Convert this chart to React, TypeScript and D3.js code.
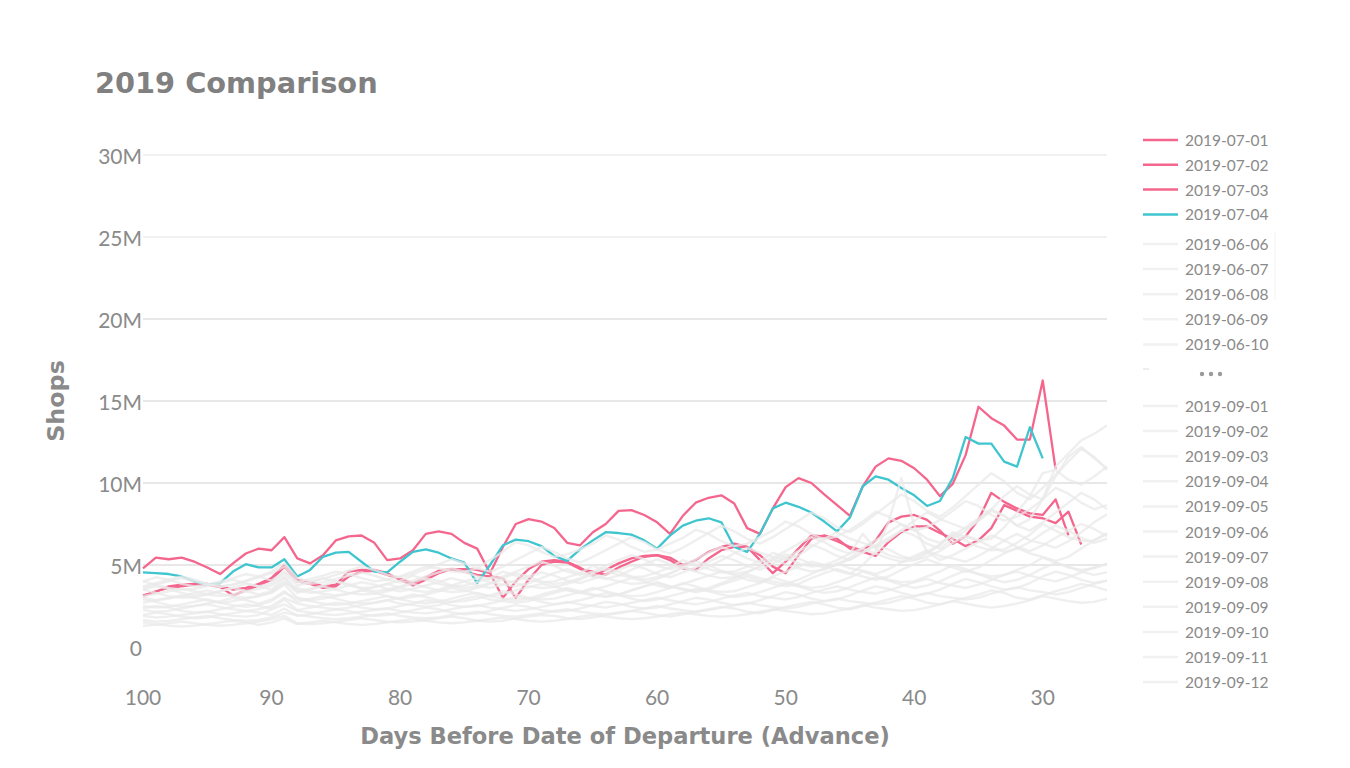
import React from "react";
import * as d3 from "d3";

// days before departure, 100 down to 25
const days = d3.range(100, 24, -1);
const xTicks = [100, 90, 80, 70, 60, 50, 40, 30];
const yTicks = [0, 5, 10, 15, 20, 25, 30];

// highlighted departure dates (values in millions of shops, starting at day 100)
const highlightDates = ["2019-07-01", "2019-07-02", "2019-07-03", "2019-07-04"];
const highlightColors = ["#f4668d", "#f4668d", "#f4668d", "#3fc5cf"];

const jul01 = [
  4.8, 5.45, 5.35, 5.45, 5.2, 4.85, 4.45, 5.1, 5.7, 6.0,
  5.9, 6.7, 5.4, 5.1, 5.6, 6.5, 6.75, 6.8, 6.35, 5.3,
  5.4, 5.9, 6.9, 7.05, 6.9, 6.35, 6.0, 4.5, 6.1, 7.5,
  7.8, 7.65, 7.25, 6.35, 6.2, 7.0, 7.5, 8.3, 8.35, 8.05,
  7.6, 6.9, 8.0, 8.8, 9.1, 9.25, 8.75, 7.25, 6.9, 8.45,
  9.75, 10.3, 10.0, 9.3, 8.65, 8.0, 9.8, 11.0, 11.5, 11.35,
  10.9, 10.2, 9.2, 9.95, 11.7, 14.65, 13.95, 13.5, 12.65, 12.65,
  16.25, 10.85,
];
const jul02 = [
  3.15, 3.35, 3.7, 3.8, 3.85, 3.85, 3.7, 3.5, 3.6, 3.85,
  4.2, 5.0, 4.1, 3.95, 3.7, 3.8, 4.6, 4.7, 4.7, 4.5,
  4.1, 3.75, 4.1, 4.5, 4.75, 4.75, 4.7, 4.5, 3.0, 4.0,
  4.75, 5.2, 5.3, 5.2, 4.85, 4.35, 4.7, 5.1, 5.4, 5.55,
  5.6, 5.45, 5.0, 5.3, 5.8, 6.1, 6.3, 6.1, 5.3, 4.5,
  5.2, 6.0, 6.8, 6.75, 6.45, 6.1, 5.9, 6.5, 7.6, 7.95,
  8.05, 7.75, 7.1, 6.3, 6.75, 7.75, 9.4, 8.85, 8.45, 8.15,
  8.05, 9.0, 6.8,
];
const jul03 = [
  3.1, 3.4, 3.6, 3.7, 3.8, 3.8, 3.65, 3.15, 3.45, 3.75,
  4.1, 4.9, 4.0, 3.85, 3.6, 3.7, 4.3, 4.6, 4.65, 4.4,
  4.15, 3.9, 4.25, 4.65, 4.75, 4.6, 4.4, 4.3, 4.2, 3.0,
  4.1, 5.0, 5.2, 5.15, 4.75, 4.6, 4.4, 4.85, 5.2, 5.5,
  5.6, 5.3, 4.8, 4.7, 5.4, 5.9, 6.1, 6.1, 5.6, 4.9,
  4.5, 5.6, 6.6, 6.8, 6.6, 6.0, 5.8, 5.55, 6.4, 7.0,
  7.35, 7.35, 6.95, 6.6, 6.15, 6.5, 7.25, 8.65, 8.3, 7.95,
  7.85, 7.55, 8.25, 6.25,
];
const jul04 = [
  4.55, 4.5, 4.45, 4.3, 4.0, 3.8, 3.9, 4.6, 5.05, 4.85,
  4.85, 5.35, 4.3, 4.7, 5.5, 5.75, 5.8, 5.2, 4.6, 4.55,
  5.2, 5.8, 5.95, 5.75, 5.4, 5.15, 3.9, 5.0, 6.2, 6.55,
  6.45, 6.15, 5.55, 5.25, 5.95, 6.5, 7.0, 6.95, 6.85, 6.5,
  6.0, 6.8, 7.4, 7.7, 7.85, 7.6, 6.1, 5.8, 6.9, 8.45,
  8.8, 8.55, 8.2, 7.65, 7.05, 7.9, 9.8, 10.4, 10.2, 9.7,
  9.25, 8.6, 8.9, 10.3, 12.8, 12.4, 12.4, 11.3, 11.0, 13.4,
  11.5,
];
const highlightSeries = [jul01, jul02, jul03, jul04];

// other departure dates (grey background lines)
const g01 = [
  1.3, 1.35, 1.45, 1.55, 1.45, 1.35, 1.3, 1.35, 1.45, 1.55, 1.7, 1.9, 1.45, 1.4,
  1.45, 1.55, 1.65, 1.75, 1.65, 1.55, 1.5, 1.55, 1.65, 1.75, 1.85, 1.75, 1.6, 1.55,
  1.6, 1.75, 1.85, 1.95, 1.9, 1.75, 1.7, 1.8, 1.95, 2.05, 2.2, 2.1, 1.95, 1.85,
  2.0, 2.15, 2.3, 2.45, 2.35, 2.15, 2.05, 2.25, 2.45, 2.6, 2.75, 2.6, 2.4, 2.3,
  2.5, 2.7, 2.9, 3.1, 2.95, 2.7, 2.6, 2.8, 3.0, 3.2, 3.45, 3.3, 3.0, 2.9,
  3.15, 3.4, 3.6, 3.85, 3.7, 3.45,
];
const g02 = [
  1.9, 1.8, 1.85, 1.95, 2.05, 2.15, 2.0, 1.9, 1.85, 1.95, 2.3, 2.6, 2.2, 2.1,
  2.0, 1.95, 2.05, 2.15, 2.25, 2.35, 2.2, 2.1, 2.05, 2.15, 2.3, 2.45, 2.55, 2.4,
  2.3, 2.2, 2.3, 2.45, 2.6, 2.75, 2.6, 2.5, 2.4, 2.55, 2.7, 2.85, 3.0, 2.85,
  2.7, 2.6, 2.75, 2.95, 3.15, 3.3, 3.1, 3.0, 2.9, 3.05, 3.3, 3.5, 3.7, 3.5,
  3.35, 3.25, 3.45, 3.7, 3.95, 4.15, 3.9, 3.75, 3.6, 3.8, 4.1, 4.4, 4.6, 4.35,
  4.15, 4.0, 4.25, 4.55, 4.85, 5.05,
];
const g03 = [
  2.9, 2.75, 2.55, 2.45, 2.5, 2.65, 2.8, 3.0, 2.85, 2.65, 2.9, 3.4, 2.75, 2.95,
  3.1, 2.95, 2.75, 2.65, 2.7, 2.85, 3.0, 3.2, 3.05, 2.85, 2.75, 2.8, 2.95, 3.15,
  3.4, 3.2, 3.0, 2.9, 2.95, 3.15, 3.35, 3.6, 3.4, 3.2, 3.1, 3.15, 3.35, 3.6,
  3.9, 3.7, 3.45, 3.35, 3.4, 3.65, 3.9, 4.25, 4.0, 3.75, 3.6, 3.7, 3.95, 4.25,
  4.6, 4.35, 4.1, 3.95, 4.0, 4.3, 4.6, 5.0, 4.75, 4.45, 4.3, 4.4, 4.7, 5.0,
  5.45, 5.15, 4.85, 4.7, 4.8, 5.1,
];
const g04 = [
  3.5, 3.7, 3.55, 3.3, 3.15, 3.25, 3.4, 3.6, 3.85, 3.7, 3.5, 4.2, 3.4, 3.55,
  3.75, 4.0, 3.85, 3.55, 3.4, 3.5, 3.7, 3.95, 4.2, 4.05, 3.75, 3.6, 3.7, 3.9,
  4.2, 4.5, 4.3, 4.0, 3.85, 3.95, 4.2, 4.5, 4.8, 4.6, 4.3, 4.1, 4.25, 4.5,
  4.85, 5.2, 5.0, 4.65, 4.45, 4.6, 4.9, 5.3, 5.65, 5.4, 5.05, 4.85, 5.0, 5.35,
  5.8, 6.2, 5.95, 5.55, 5.3, 5.5, 5.85, 6.35, 6.8, 6.5, 6.1, 5.8, 6.0, 6.4,
  6.95, 7.4, 7.1, 6.65, 6.35, 6.6,
];
const g05 = [
  3.7, 3.9, 4.1, 4.3, 4.1, 3.85, 3.7, 3.8, 4.0, 4.25, 4.5, 4.9, 4.0, 3.85,
  3.95, 4.15, 4.35, 4.55, 4.35, 4.1, 3.95, 4.05, 4.3, 4.55, 4.8, 4.6, 4.3, 4.15,
  4.3, 4.6, 4.9, 5.2, 4.95, 4.6, 4.4, 4.6, 4.95, 5.3, 5.6, 5.35, 4.95, 4.75,
  5.0, 5.35, 5.75, 6.1, 5.8, 5.4, 5.15, 5.45, 5.85, 6.3, 6.7, 6.4, 5.95, 5.7,
  6.05, 6.5, 7.0, 7.5, 7.15, 6.6, 6.35, 6.8, 7.3, 7.85, 8.4, 8.0, 7.4, 7.1,
  7.6, 8.2, 8.8, 9.4, 9.0, 8.4,
];
const g06 = [
  1.65, 1.55, 1.6, 1.7, 1.8, 1.9, 1.75, 1.65, 1.6, 1.65, 1.8, 2.1, 1.95, 1.85,
  1.75, 1.7, 1.75, 1.85, 1.95, 2.05, 1.9, 1.8, 1.75, 1.8, 1.95, 2.05, 2.15, 2.0,
  1.9, 1.85, 1.95, 2.05, 2.2, 2.3, 2.15, 2.05, 2.0, 2.1, 2.2, 2.35, 2.5, 2.35,
  2.25, 2.15, 2.25, 2.4, 2.55, 2.7, 2.55, 2.45, 2.35, 2.45, 2.65, 2.8, 2.95, 2.8,
  2.7, 2.6, 2.7, 2.9, 3.1, 3.3, 3.1, 3.0, 2.9, 3.0, 3.25, 3.45, 3.65, 3.45,
  3.35, 3.2, 3.35, 3.6, 3.85, 4.05,
];
const g07 = [
  4.0, 3.8, 3.6, 3.5, 3.55, 3.7, 3.9, 4.1, 3.9, 3.7, 3.9, 4.5, 3.75, 3.95,
  4.2, 4.0, 3.75, 3.6, 3.65, 3.85, 4.05, 4.35, 4.1, 3.85, 3.7, 3.75, 3.95, 4.2,
  4.6, 4.35, 4.1, 3.95, 4.0, 4.25, 4.5, 4.95, 4.65, 4.4, 4.25, 4.3, 4.55, 4.85,
  5.3, 5.0, 4.75, 4.55, 4.6, 4.9, 5.25, 5.75, 5.45, 5.1, 4.9, 5.0, 5.3, 5.7,
  6.9, 6.0, 5.6, 5.4, 5.45, 5.8, 6.25, 6.85, 6.5, 6.1, 5.9, 5.95, 6.35, 6.85,
  7.5, 7.1, 6.7, 6.45, 6.5, 6.95,
];
const g08 = [
  2.35, 2.5, 2.4, 2.2, 2.1, 2.15, 2.3, 2.45, 2.6, 2.5, 2.35, 2.9, 2.25, 2.4,
  2.55, 2.7, 2.6, 2.4, 2.3, 2.35, 2.5, 2.65, 2.85, 2.75, 2.55, 2.45, 2.5, 2.65,
  2.85, 3.05, 2.95, 2.75, 2.6, 2.7, 2.85, 3.05, 3.3, 3.15, 2.95, 2.8, 2.9, 3.1,
  3.3, 3.55, 3.4, 3.2, 3.05, 3.15, 3.35, 3.6, 3.85, 3.7, 3.45, 3.3, 3.4, 3.65,
  3.95, 4.25, 4.05, 3.8, 3.6, 3.75, 4.0, 4.35, 4.65, 4.45, 4.15, 3.95, 4.1, 4.4,
  4.8, 5.15, 4.9, 4.6, 4.4, 4.55,
];
const g09 = [
  3.6, 3.8, 4.0, 4.2, 4.0, 3.8, 3.65, 3.8, 4.05, 4.3, 4.6, 5.1, 4.2, 4.0,
  4.15, 4.4, 4.65, 4.9, 4.7, 4.4, 4.25, 4.45, 4.75, 5.05, 5.35, 5.1, 4.8, 4.6,
  4.9, 5.3, 5.7, 6.1, 5.8, 5.4, 5.15, 5.5, 5.9, 6.3, 6.7, 6.4, 5.95, 5.7,
  6.05, 6.5, 6.95, 7.4, 7.05, 6.6, 6.3, 6.7, 7.2, 7.7, 8.2, 7.85, 7.3, 7.0,
  7.5, 8.1, 8.7, 9.3, 8.9, 8.3, 7.95, 8.5, 9.2, 9.9, 10.6, 10.1, 9.4, 9.0,
  9.7, 10.5, 11.3, 12.1, 11.6, 10.8,
];
const g10 = [
  3.0, 2.85, 2.95, 3.1, 3.3, 3.45, 3.25, 3.1, 3.0, 3.1, 3.35, 3.9, 3.6, 3.4,
  3.25, 3.15, 3.25, 3.45, 3.65, 3.85, 3.6, 3.45, 3.35, 3.5, 3.75, 4.0, 4.2, 3.95,
  3.8, 3.7, 3.9, 4.2, 4.5, 4.75, 4.5, 4.3, 4.15, 4.35, 4.7, 5.05, 5.35, 5.05,
  4.85, 4.65, 4.9, 5.3, 5.7, 6.05, 5.75, 5.5, 5.3, 5.6, 6.1, 6.6, 7.0, 6.6,
  6.35, 6.1, 6.5, 7.1, 7.7, 8.2, 7.8, 7.5, 7.2, 7.7, 8.4, 9.2, 9.8, 9.3,
  9.0, 11.0, 11.8, 12.6, 13.0, 13.5,
];
const g11 = [
  1.5, 1.4, 1.3, 1.25, 1.3, 1.4, 1.5, 1.6, 1.5, 1.35, 1.5, 1.75, 1.4, 1.5,
  1.6, 1.5, 1.4, 1.35, 1.4, 1.5, 1.6, 1.7, 1.6, 1.5, 1.45, 1.5, 1.6, 1.7,
  1.8, 1.7, 1.6, 1.55, 1.6, 1.7, 1.85, 1.95, 1.85, 1.75, 1.7, 1.75, 1.85, 2.0,
  2.1, 2.0, 1.9, 1.85, 1.9, 2.0, 2.15, 2.3, 2.2, 2.1, 2.0, 2.05, 2.2, 2.35,
  2.55, 2.4, 2.3, 2.2, 2.25, 2.4, 2.6, 2.8, 2.65, 2.5, 2.4, 2.5, 2.65, 2.85,
  3.1, 2.95, 2.8, 2.7, 2.75, 2.95,
];
const g12 = [
  4.0, 4.25, 4.1, 3.85, 3.7, 3.8, 4.0, 4.2, 4.45, 4.3, 4.05, 4.6, 3.95, 4.15,
  4.35, 4.6, 4.45, 4.2, 4.0, 4.1, 4.3, 4.6, 4.9, 4.8, 4.6, 4.55, 4.8, 5.3,
  5.8, 6.4, 6.2, 5.8, 5.5, 5.65, 5.95, 6.3, 6.8, 6.55, 6.1, 5.8, 5.95, 6.3,
  6.65, 7.15, 6.9, 6.45, 6.15, 6.3, 6.7, 7.1, 7.65, 7.35, 6.9, 6.55, 6.75, 7.15,
  7.65, 8.25, 7.95, 7.45, 7.1, 7.3, 7.75, 8.3, 8.9, 8.6, 8.05, 7.7, 7.95, 8.4,
  9.0, 9.7, 9.35, 8.8, 8.4, 8.65,
];
const g13 = [
  2.7, 2.85, 3.0, 3.15, 3.0, 2.85, 2.7, 2.8, 2.95, 3.1, 3.3, 3.8, 3.0, 2.85,
  2.95, 3.1, 3.25, 3.45, 3.3, 3.1, 2.95, 3.05, 3.2, 3.4, 3.6, 3.45, 3.25, 3.1,
  3.25, 3.45, 3.65, 3.85, 3.7, 3.45, 3.3, 3.5, 3.7, 3.95, 4.2, 4.0, 3.75, 3.6,
  3.85, 4.1, 4.35, 4.6, 4.4, 4.1, 3.95, 4.3, 4.6, 4.9, 5.2, 5.0, 4.65, 4.45,
  5.0, 5.8, 7.6, 10.3, 7.4, 5.8, 5.3, 5.6, 6.0, 6.4, 6.8, 6.5, 6.1, 5.85,
  6.2, 6.65, 7.1, 7.5, 7.2, 6.75,
];
const g14 = [
  2.5, 2.4, 2.45, 2.6, 2.75, 2.9, 2.7, 2.55, 2.45, 2.55, 2.8, 3.3, 2.95, 2.8,
  2.65, 2.55, 2.65, 2.8, 2.95, 3.1, 2.9, 2.75, 2.65, 2.75, 2.95, 3.15, 3.3, 3.1,
  2.95, 2.85, 2.95, 3.2, 3.4, 3.6, 3.4, 3.2, 3.1, 3.2, 3.45, 3.7, 3.9, 3.7,
  3.5, 3.35, 3.5, 3.8, 4.05, 4.3, 4.05, 3.85, 3.7, 3.85, 4.2, 4.5, 4.75, 4.5,
  4.3, 4.1, 4.3, 4.7, 5.05, 5.35, 5.05, 4.85, 4.6, 4.85, 5.3, 5.7, 6.05, 5.7,
  5.5, 5.25, 5.5, 6.0, 6.5, 6.9,
];
const g15 = [
  3.5, 3.3, 3.1, 3.0, 3.05, 3.2, 3.4, 3.6, 3.4, 3.2, 3.4, 4.0, 3.3, 3.5,
  3.7, 3.5, 3.3, 3.2, 3.25, 3.4, 3.6, 3.85, 3.65, 3.45, 3.35, 3.4, 3.6, 3.85,
  4.1, 3.9, 3.7, 3.6, 3.65, 3.85, 4.1, 4.45, 4.2, 4.0, 3.85, 3.9, 4.15, 4.45,
  4.85, 4.6, 4.35, 4.2, 4.25, 4.55, 4.9, 5.35, 5.05, 4.8, 4.6, 4.7, 5.05, 5.45,
  6.0, 5.7, 5.4, 5.2, 5.3, 5.7, 6.2, 7.0, 6.7, 6.5, 6.6, 7.3, 8.2, 9.2,
  10.6, 10.8, 10.2, 9.9, 10.4, 11.0,
];
const g16 = [
  1.95, 2.1, 2.0, 1.85, 1.75, 1.8, 1.95, 2.05, 2.2, 2.1, 1.95, 2.35, 1.9, 2.0,
  2.15, 2.3, 2.2, 2.0, 1.9, 1.95, 2.1, 2.25, 2.4, 2.3, 2.1, 2.0, 2.05, 2.2,
  2.4, 2.55, 2.45, 2.25, 2.15, 2.2, 2.35, 2.55, 2.75, 2.65, 2.45, 2.35, 2.4, 2.6,
  2.8, 3.0, 2.9, 2.7, 2.55, 2.65, 2.85, 3.1, 3.35, 3.2, 2.95, 2.8, 2.9, 3.15,
  3.45, 3.7, 3.55, 3.3, 3.1, 3.25, 3.5, 3.85, 4.15, 3.95, 3.7, 3.5, 3.6, 3.9,
  4.3, 4.6, 4.4, 4.1, 3.9, 4.05,
];
const g17 = [
  3.1, 3.25, 3.4, 3.55, 3.4, 3.2, 3.1, 3.2, 3.4, 3.55, 3.75, 4.3, 3.45, 3.3,
  3.4, 3.55, 3.75, 3.95, 3.8, 3.55, 3.4, 3.55, 3.75, 3.95, 4.2, 4.0, 3.75, 3.6,
  3.8, 4.05, 4.3, 4.55, 4.35, 4.05, 3.9, 4.15, 4.4, 4.7, 5.0, 4.8, 4.45, 4.25,
  4.55, 4.85, 5.2, 5.55, 5.3, 4.95, 4.7, 5.1, 5.45, 5.85, 6.25, 5.95, 5.55, 5.3,
  5.75, 6.2, 6.65, 7.1, 6.8, 6.3, 6.0, 6.6, 7.1, 7.7, 8.3, 8.0, 7.4, 7.8,
  9.0, 10.4, 11.6, 12.2, 11.5, 10.9,
];
const g18 = [
  2.25, 2.15, 2.2, 2.35, 2.5, 2.6, 2.45, 2.3, 2.2, 2.3, 2.5, 3.0, 2.65, 2.5,
  2.4, 2.3, 2.4, 2.55, 2.7, 2.85, 2.65, 2.55, 2.45, 2.55, 2.75, 2.95, 3.1, 2.9,
  2.8, 2.7, 2.8, 3.05, 3.3, 3.5, 3.3, 3.15, 3.05, 3.2, 3.45, 3.7, 3.95, 3.7,
  3.55, 3.4, 3.6, 3.9, 4.2, 4.45, 4.2, 4.0, 3.85, 4.1, 4.45, 4.8, 5.1, 4.8,
  4.65, 4.45, 4.75, 5.15, 5.55, 5.9, 5.55, 5.4, 5.2, 5.55, 6.0, 6.5, 6.9, 6.5,
  6.3, 6.05, 6.45, 7.0, 7.6, 8.1,
];
const greySeries = [g01, g02, g03, g04, g05, g06, g07, g08, g09, g10, g11, g12, g13, g14, g15, g16, g17, g18];

const legendUpper = ["2019-06-06", "2019-06-07", "2019-06-08", "2019-06-09", "2019-06-10"];
const legendLower = [
  "2019-09-01", "2019-09-02", "2019-09-03", "2019-09-04", "2019-09-05", "2019-09-06",
  "2019-09-07", "2019-09-08", "2019-09-09", "2019-09-10", "2019-09-11", "2019-09-12",
];

const textColor = "#8a8a8a";
const font = "Lato, 'Open Sans', sans-serif";
const boldFont = "'DejaVu Sans', 'Open Sans', sans-serif";

const App: React.FC = () => {
  const x = d3.scaleLinear().domain([100, 25]).range([143, 1107]);
  const y = d3.scaleLinear().domain([0, 30]).range([647, 155]);

  const line = d3
    .line<number>()
    .x((_, i) => x(days[i]))
    .y((v) => y(v));

  const rowStep = 25.1;

  return (
    <svg
      width={1350}
      height={768}
      style={{ position: "absolute", left: 0, top: 0, background: "#fff" }}
      fontFamily={font}
    >
      <text x={95} y={93} fontFamily={boldFont} fontSize={28.8} fontWeight={700} fill="#808080">
        2019 Comparison
      </text>

      {/* gridlines */}
      {yTicks.filter((t) => t > 0).map((t) => (
        <line
          key={"g" + t}
          x1={143}
          x2={1107}
          y1={y(t)}
          y2={y(t)}
          stroke={t >= 25 ? "#e4e4e4" : "#d0d0d0"}
          strokeWidth={1.2}
        />
      ))}

      {/* y tick labels */}
      {yTicks.map((t) => (
        <text key={"yl" + t} x={142} y={y(t)} textAnchor="end" dominantBaseline="central" fontSize={21} fill={textColor}>
          {t === 0 ? "0" : t + "M"}
        </text>
      ))}

      {/* x tick labels */}
      {xTicks.map((t) => (
        <text key={"xl" + t} x={x(t)} y={696} textAnchor="middle" dominantBaseline="central" fontSize={21} fill={textColor}>
          {t}
        </text>
      ))}

      {/* highlighted dates under the grey bundle */}
      {highlightSeries.map((s, i) => (
        <path key={"h" + i} d={line(s) || ""} fill="none" stroke={highlightColors[i]} strokeWidth={2.3} strokeLinejoin="round" />
      ))}

      {/* grey comparison dates */}
      {greySeries.map((s, i) => (
        <path
          key={"gs" + i}
          d={line(s) || ""}
          fill="none"
          stroke="#e9e9e9"
          strokeOpacity={0.75}
          strokeWidth={2.4}
          strokeLinejoin="round"
        />
      ))}

      {/* axis titles */}
      <text x={625} y={744} textAnchor="middle" fontFamily={boldFont} fontSize={22.6} fontWeight={700} fill={textColor}>
        Days Before Date of Departure (Advance)
      </text>
      <text
        transform="translate(64,401) rotate(-90)"
        textAnchor="middle"
        fontFamily={boldFont}
        fontSize={23.8}
        fontWeight={700}
        fill={textColor}
      >
        Shops
      </text>

      {/* legend */}
      <g>
        {highlightDates.map((d, i) => {
          const ry = 140 + i * 24.8;
          return (
            <g key={d}>
              <line x1={1143} x2={1178} y1={ry} y2={ry} stroke={highlightColors[i]} strokeWidth={2.5} />
              <text x={1185} y={ry} dominantBaseline="central" fontSize={15.5} fill={textColor}>
                {d}
              </text>
            </g>
          );
        })}
        {legendUpper.map((d, i) => {
          const ry = 244 + i * rowStep;
          return (
            <g key={d}>
              <line x1={1143} x2={1178} y1={ry} y2={ry} stroke="#f1f1f1" strokeWidth={2.5} />
              <text x={1185} y={ry} dominantBaseline="central" fontSize={15.5} fill={textColor}>
                {d}
              </text>
            </g>
          );
        })}
        <line x1={1143} x2={1149} y1={369} y2={369} stroke="#eeeeee" strokeWidth={2} />
        {[1202, 1211, 1220].map((cx) => (
          <circle key={cx} cx={cx} cy={374} r={2.2} fill="#9a9a9a" />
        ))}
        {legendLower.map((d, i) => {
          const ry = 406 + i * rowStep;
          return (
            <g key={d}>
              <line x1={1143} x2={1178} y1={ry} y2={ry} stroke="#f1f1f1" strokeWidth={2.5} />
              <text x={1185} y={ry} dominantBaseline="central" fontSize={15.5} fill={textColor}>
                {d}
              </text>
            </g>
          );
        })}
        <line x1={1275} x2={1275} y1={232} y2={300} stroke="#f2f2f2" strokeWidth={1} />
      </g>
    </svg>
  );
};

export default App;
